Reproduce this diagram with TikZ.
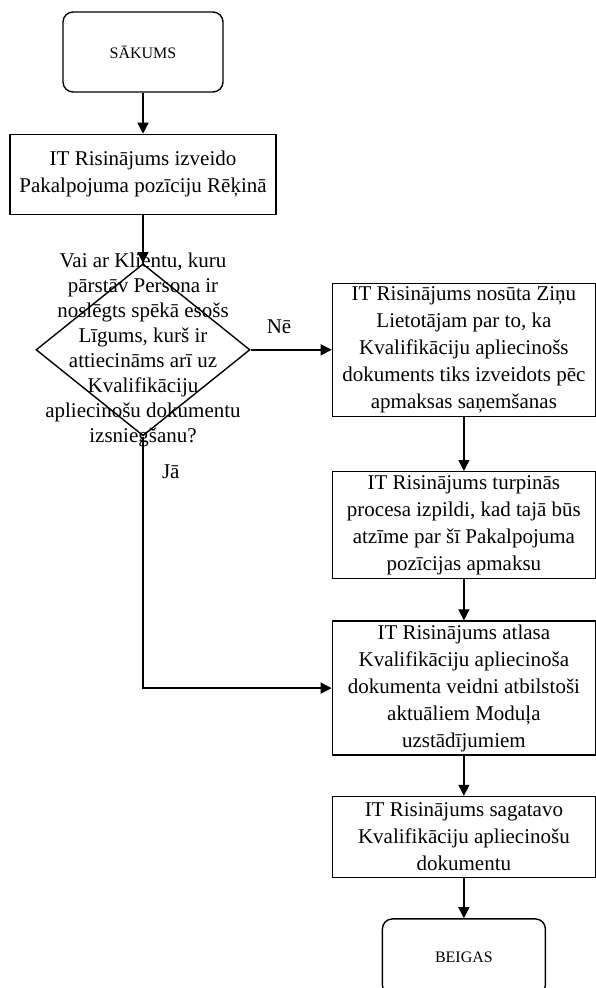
\documentclass[tikz,border=0pt]{standalone}
\usepackage{fontspec}
\setmainfont{Liberation Serif}
\usetikzlibrary{arrows.meta,positioning,shapes.geometric}

\begin{document}
\begin{tikzpicture}[
  font=\fontsize{21}{27}\selectfont,
  term/.style={draw,rounded corners=10pt,align=center,minimum width=160pt,minimum height=80pt,font=\fontsize{16}{20}\selectfont,line width=1.4pt},
  proc/.style={draw,align=center,minimum width=263pt,inner sep=0pt,line width=1.4pt},
  decision/.style={draw,diamond,minimum width=214pt,minimum height=172pt,inner sep=0pt,line width=1.4pt},
  arr/.style={-{Triangle[length=11pt,width=11pt]},line width=1.4pt}]
  \useasboundingbox (0,0) rectangle (595pt,-988pt);
  \node[term] (start) at (143pt,-52pt) {SĀKUMS};
  \node[proc,minimum width=266pt,minimum height=80pt,below=41pt of start] (create)
      {IT Risinājums izveido\\Pakalpojuma pozīciju Rēķinā};
  \node[decision,below=48pt of create] (check) {};
  \node[align=center,font=\fontsize{21}{25}\selectfont] (checktext) at (check)
      {Vai ar Klientu, kuru\\pārstāv Persona ir\\noslēgts spēkā esošs\\Līgums, kurš ir\\attiecināms arī uz\\Kvalifikāciju\\apliecinošu dokumentu\\izsniegšanu?};
  \node[proc,minimum height=133pt,right=81pt of check] (notify)
      {IT Risinājums nosūta Ziņu\\Lietotājam par to, ka\\Kvalifikāciju apliecinošs\\dokuments tiks izveidots pēc\\apmaksas saņemšanas};
  \node[proc,minimum height=107pt,below=54pt of notify] (wait)
      {IT Risinājums turpinās\\procesa izpildi, kad tajā būs\\atzīme par šī Pakalpojuma\\pozīcijas apmaksu};
  \node[proc,minimum height=134pt,below=41pt of wait] (select)
      {IT Risinājums atlasa\\Kvalifikāciju apliecinoša\\dokumenta veidni atbilstoši\\aktuāliem Moduļa\\uzstādījumiem};
  \node[proc,minimum height=81pt,below=40pt of select] (prepare)
      {IT Risinājums sagatavo\\Kvalifikāciju apliecinošu\\dokumentu};
  \node[term,minimum width=163pt,minimum height=76pt,below=40pt of prepare] (finish) {BEIGAS};
  \draw[arr] (start)--(create);
  \draw[arr] (create)--(check);
  \draw[arr] (check.east)--node[pos=.35,above=12pt] (no) {Nē} (notify.west);
  \draw[arr] (check.south)|-node[pos=.07,right=15pt] (yes) {Jā} (select.west);
  \draw[arr] (notify)--(wait);
  \draw[arr] (wait)--(select);
  \draw[arr] (select)--(prepare);
  \draw[arr] (prepare)--(finish);
\end{tikzpicture}
\end{document}
